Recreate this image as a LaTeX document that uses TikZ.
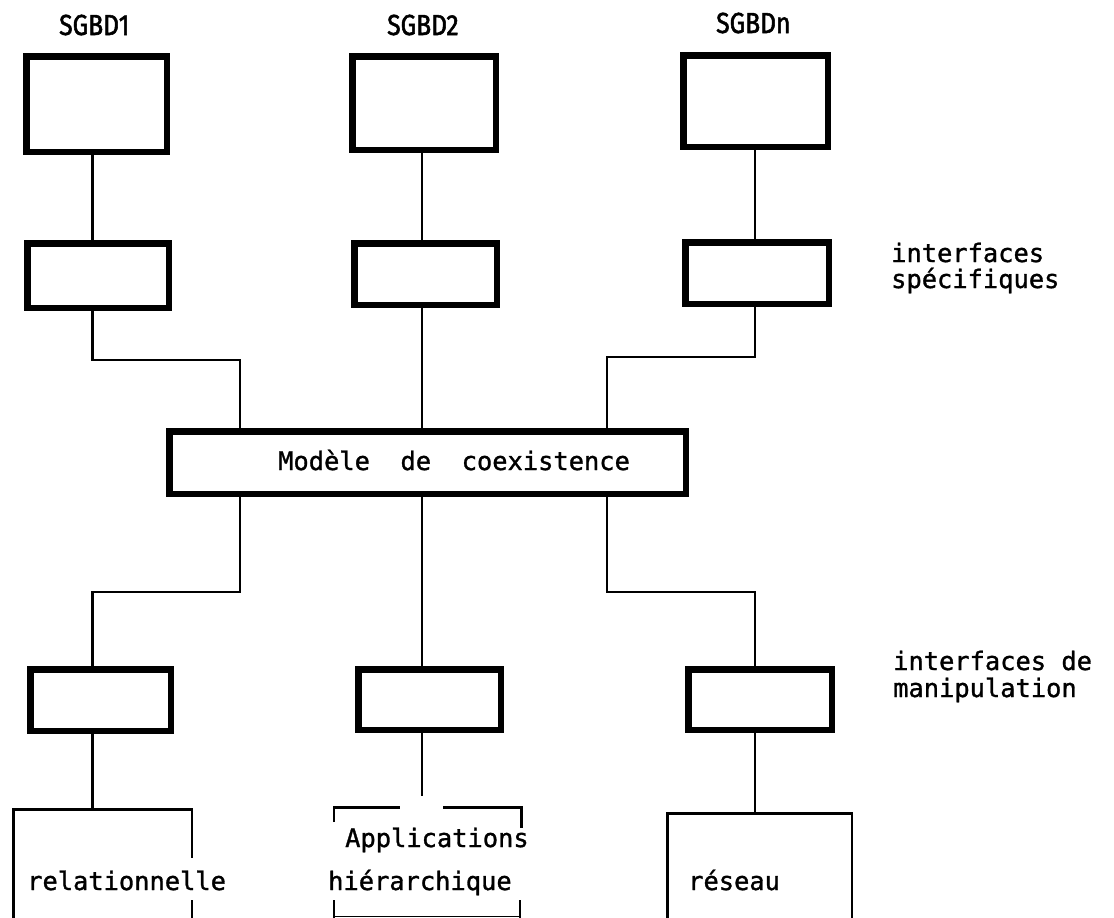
\documentclass[tikz,border=0pt]{standalone}
\usepackage{fontspec}
\newfontfamily\monofont[FakeBold=1.2]{DejaVu Sans Mono}
\newfontfamily\labfont[FakeStretch=0.85,FakeBold=1.8]{Fira Sans}
\begin{document}
\begin{tikzpicture}[x=1pt,y=-1pt,
  thickbox/.style={draw, line width=6.5pt, inner sep=0pt, outer sep=0pt},
  conn/.style={line width=2.2pt},
  openbox/.style={line width=2.5pt},
  txt/.style={font=\monofont\fontsize{25.4}{28}\selectfont, inner sep=0pt, anchor=base west},
  lab/.style={font=\labfont\fontsize{29}{32}\selectfont, inner sep=0pt, anchor=base west}]
\useasboundingbox (0,0) rectangle (1114,918);

% column coordinates
\coordinate (c1) at (92.5,0);
\coordinate (c2) at (422,0);
\coordinate (cn) at (755,0);
\coordinate (k1) at (240,360);
\coordinate (k2) at (607,357);
\coordinate (k3) at (240,592);
\coordinate (k4) at (607,592);

% top labels
\node[lab] (l1) at (59,35) {SGBD1};
\node[lab] (l2) at (387,35) {SGBD2};
\node[lab] (l3) at (716,33) {SGBDn};

% top boxes
\node[thickbox, minimum width=140.5pt, minimum height=95.5pt] (T1) at (96.5,104) {};
\node[thickbox, minimum width=143.5pt, minimum height=93.5pt] (T2) at (424,103) {};
\node[thickbox, minimum width=144.5pt, minimum height=91.5pt] (Tn) at (755.5,101) {};

% specific interfaces
\node[thickbox, minimum width=141.5pt, minimum height=64.5pt] (S1) at (98,275.5) {};
\node[thickbox, minimum width=142.5pt, minimum height=61.5pt] (S2) at (425.5,274) {};
\node[thickbox, minimum width=143.5pt, minimum height=61.5pt] (Sn) at (757,273) {};

\node[txt] (is1) at (891,262) {interfaces};
\node[txt] (is2) at (891,288) {spécifiques};

% coexistence model
\node[thickbox, minimum width=516.5pt, minimum height=62.5pt] (Mod) at (427.5,462.5) {};
\node[txt] (modtxt) at (278,470) {Modèle\ \ de\ \ coexistence};

% manipulation interfaces
\node[thickbox, minimum width=140.5pt, minimum height=61.5pt] (M1) at (100.5,700) {};
\node[thickbox, minimum width=142.5pt, minimum height=60.5pt] (M2) at (429.5,699.5) {};
\node[thickbox, minimum width=143.5pt, minimum height=60.5pt] (Mn) at (760,699.5) {};

\node[txt] (im1) at (893,670) {interfaces de};
\node[txt] (im2) at (893,697) {manipulation};

% bottom applications
\coordinate (Rtop) at (92.5,809.25);
\coordinate (Aend) at (422,796);
\coordinate (Ntop) at (755,813.25);
\draw[openbox] (13.25,925) -- (13.25,809.25) -- (191.75,809.25) -- (191.75,858);
\draw[openbox] (191.75,900) -- (191.75,925);
\node[txt] (rel) at (27,890) {relationnelle};

\draw[openbox] (334,822) -- (334,807.25) -- (400,807.25);
\draw[openbox] (443,807.25) -- (521.5,807.25) -- (521.5,828);
\draw[openbox] (334,900) -- (334,925);
\draw[openbox] (520,900) -- (520,925);
\draw[line width=1.5pt] (334,916.5) -- (520,916.5);
\node[txt] (app) at (345,847) {Applications};
\node[txt] (hier) at (328,890) {hiérarchique};

\draw[openbox] (667.25,925) -- (667.25,813.25) -- (851.75,813.25) -- (851.75,925);
\node[txt] (res) at (688,890) {réseau};

% connectors
\draw[conn] (T1.south -| c1) -- (S1.north -| c1);
\draw[conn] (T2.south -| c2) -- (S2.north -| c2);
\draw[conn] (Tn.south -| cn) -- (Sn.north -| cn);

\draw[conn] (S1.south -| c1) |- (k1) -- (Mod.north -| k1);
\draw[conn] (S2.south -| c2) -- (Mod.north -| c2);
\draw[conn] (Sn.south -| cn) |- (k2) -- (Mod.north -| k2);

\draw[conn] (Mod.south -| k3) -- (k3) -| (M1.north -| c1);
\draw[conn] (Mod.south -| c2) -- (M2.north -| c2);
\draw[conn] (Mod.south -| k4) -- (k4) -| (Mn.north -| cn);

\draw[conn] (M1.south -| c1) -- (Rtop);
\draw[conn] (M2.south -| c2) -- (Aend);
\draw[conn] (Mn.south -| cn) -- (Ntop);
\end{tikzpicture}
\end{document}
